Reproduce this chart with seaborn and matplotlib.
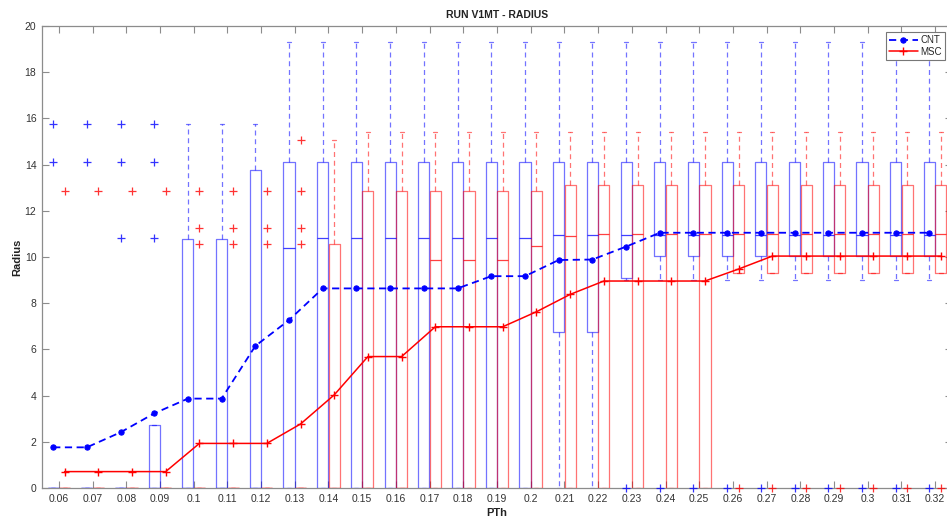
import numpy as np
import pandas as pd
import matplotlib
matplotlib.use("Agg")
import matplotlib.pyplot as plt
import seaborn as sns

# ---------------- data ----------------
pth = ["0.06", "0.07", "0.08", "0.09", "0.1", "0.11", "0.12", "0.13", "0.14",
       "0.15", "0.16", "0.17", "0.18", "0.19", "0.2", "0.21", "0.22", "0.23",
       "0.24", "0.25", "0.26", "0.27", "0.28", "0.29", "0.3", "0.31", "0.32"]

# CNT box statistics
cnt_q1 = [0, 0, 0, 0, 0, 0, 0, 0, 0, 0, 0, 0, 0, 0, 0, 6.74, 6.74, 9.1,
          10.06, 10.06, 10.06, 10.06, 10.06, 10.06, 10.06, 10.06, 10.06]
cnt_med = [0, 0, 0, 0, 0, 0, 0, 10.37, 10.84, 10.84, 10.84, 10.84, 10.84, 10.84, 10.84,
           10.94, 10.94, 10.94, 10.94, 10.94, 10.94, 10.94, 10.94, 10.94, 10.94, 10.94, 10.94]
cnt_q3 = [0, 0, 0, 2.73, 10.77, 10.77, 13.77, 14.11, 14.11, 14.11, 14.11, 14.11, 14.11,
          14.11, 14.11, 14.11, 14.11, 14.11, 14.11, 14.11, 14.11, 14.11, 14.11, 14.11,
          14.11, 14.11, 14.11]
cnt_wlo = [0, 0, 0, 0, 0, 0, 0, 0, 0, 0, 0, 0, 0, 0, 0, 0, 0, 9.0,
           9.0, 9.0, 9.0, 9.0, 9.0, 9.0, 9.0, 9.0, 9.0]
cnt_whi = [0, 0, 0, 2.73, 15.76, 15.76, 15.76, 19.3, 19.3, 19.3, 19.3, 19.3, 19.3, 19.3,
           19.3, 19.3, 19.3, 19.3, 19.3, 19.3, 19.3, 19.3, 19.3, 19.3, 19.3, 19.3, 19.3]
cnt_out = [[15.76, 14.1], [15.76, 14.1], [15.76, 14.1, 10.84], [15.76, 14.1, 10.84],
           [], [], [], [], [], [], [], [], [], [], [], [], [],
           [0], [0], [0], [0], [0], [0], [0], [0], [0], [0]]
cnt_mean = [1.76, 1.76, 2.41, 3.23, 3.87, 3.87, 6.15, 7.27, 8.64, 8.64, 8.64, 8.64, 8.64,
            9.17, 9.17, 9.87, 9.89, 10.45, 11.05, 11.05, 11.05, 11.05, 11.05, 11.05,
            11.05, 11.05, 11.05]

# MSC box statistics
msc_q1 = [0, 0, 0, 0, 0, 0, 0, 0, 0, 0, 0, 0, 0, 0, 0, 0, 0, 0, 0, 0,
          9.29, 9.29, 9.29, 9.29, 9.29, 9.29, 9.29]
msc_med = [0, 0, 0, 0, 0, 0, 0, 0, 0, 0, 0, 9.87, 9.87, 9.87, 10.49, 10.9, 11.0, 11.0,
           11.0, 11.0, 11.0, 11.0, 11.0, 11.0, 11.0, 11.0, 11.0]
msc_q3 = [0, 0, 0, 0, 0, 0, 0, 0, 10.55, 12.87, 12.87, 12.87, 12.87, 12.87, 12.87,
          13.1, 13.1, 13.1, 13.1, 13.1, 13.1, 13.1, 13.1, 13.1, 13.1, 13.1, 13.1]
msc_wlo = [0, 0, 0, 0, 0, 0, 0, 0, 0, 0, 0, 0, 0, 0, 0, 0, 0, 0, 0, 0,
           9.29, 9.29, 9.29, 9.29, 9.29, 9.29, 9.29]
msc_whi = [0, 0, 0, 0, 0, 0, 0, 0, 15.08, 15.4, 15.4, 15.4, 15.4, 15.4, 15.4, 15.4,
           15.4, 15.4, 15.4, 15.4, 15.4, 15.4, 15.4, 15.4, 15.4, 15.4, 15.4]
msc_out = [[12.87], [12.87], [12.87], [12.87],
           [12.87, 11.27, 10.55], [12.87, 11.27, 10.55], [12.87, 11.27, 10.55],
           [15.08, 12.87, 11.27, 10.55],
           [], [], [], [], [], [], [], [], [], [], [], [],
           [0], [0], [0], [0], [0], [0], [0]]
msc_mean = [0.71, 0.71, 0.71, 0.71, 1.93, 1.93, 1.93, 2.77, 4.03, 5.69, 5.69, 6.98, 6.98,
            6.98, 7.63, 8.38, 8.96, 8.96, 8.96, 8.96, 9.48, 10.04, 10.04, 10.04, 10.04,
            10.04, 10.04]

# ---------------- style ----------------
sns.set_style("ticks")
plt.rcParams["font.family"] = ["Liberation Sans", "DejaVu Sans"]

BLUE = "#0000ff"
RED = "#ff0000"
GRAY = "#8c8c8c"
TXT = "#333333"

fig = plt.figure(figsize=(9.47, 5.20), dpi=100)
ax = fig.add_axes([42 / 947, 32 / 520, 910 / 947, 462 / 520])

n = len(pth)
base = np.arange(1, n + 1)
off = 0.17
bw = 0.33


def stats(q1, med, q3, wlo, whi, out):
    return [dict(q1=a, med=b, q3=c, whislo=d, whishi=e, fliers=np.array(f, dtype=float))
            for a, b, c, d, e, f in zip(q1, med, q3, wlo, whi, out)]


def draw(st, pos, col):
    r = ax.bxp(st, positions=pos, widths=bw, capwidths=0.12, manage_ticks=False,
               boxprops=dict(color=col, lw=0.9, alpha=0.55),
               medianprops=dict(color=col, lw=0.9, alpha=0.75),
               whiskerprops=dict(color=col, lw=0.9, alpha=0.55, ls=(0, (4, 3))),
               capprops=dict(color=col, lw=0.9, alpha=0.55),
               flierprops=dict(marker="+", markeredgecolor=col, markersize=5.5,
                               markeredgewidth=0.9, alpha=0.8, ls="none"))
    for fl in r["fliers"]:
        fl.set_clip_on(False)
        fl.set_zorder(5)


draw(stats(cnt_q1, cnt_med, cnt_q3, cnt_wlo, cnt_whi, cnt_out), base - off, BLUE)
draw(stats(msc_q1, msc_med, msc_q3, msc_wlo, msc_whi, msc_out), base + off, RED)

df_cnt = pd.DataFrame({"x": base - off, "y": cnt_mean})
df_msc = pd.DataFrame({"x": base + off, "y": msc_mean})
sns.lineplot(data=df_cnt, x="x", y="y", ax=ax, color=BLUE, linestyle=(0, (4, 2.5)),
             lw=1.3, marker="o", markersize=3.8, markeredgecolor=BLUE,
             markerfacecolor=BLUE, label="CNT", errorbar=None, sort=False)
sns.lineplot(data=df_msc, x="x", y="y", ax=ax, color=RED, linestyle="-",
             lw=1.1, marker="+", markersize=5.5, markeredgecolor=RED,
             markeredgewidth=1.0, label="MSC", errorbar=None, sort=False)

ax.set_xlim(0.5, n + 0.5)
ax.set_ylim(0, 20)
ax.set_xticks(base)
ax.set_xticklabels(pth)
ax.set_yticks(np.arange(0, 21, 2))

ax.tick_params(axis="both", direction="in", length=5, width=0.8, colors=GRAY,
               labelcolor=TXT, labelsize=7.5, top=True, right=True, pad=4)
for s in ax.spines.values():
    s.set_color(GRAY)
    s.set_linewidth(0.9)
    s.set_zorder(1)

ax.set_title("RUN V1MT - RADIUS", fontsize=7.5, fontweight="bold", color="#222222", pad=6)
ax.set_xlabel("PTh", fontsize=8, fontweight="bold", color="#222222", labelpad=3)
ax.set_ylabel("Radius", fontsize=8, fontweight="bold", color="#222222", labelpad=2)

leg = ax.legend(loc="upper right", bbox_to_anchor=(945 / 947, 488 / 520),
                bbox_transform=fig.transFigure, borderaxespad=0, fontsize=7,
                frameon=True, fancybox=False, framealpha=1, edgecolor="#777777",
                handlelength=3.0, handletextpad=0.3, borderpad=0.3, labelspacing=0.2)
leg.get_frame().set_linewidth(0.8)
leg.set_zorder(10)

fig.savefig("out.png", dpi=100)
